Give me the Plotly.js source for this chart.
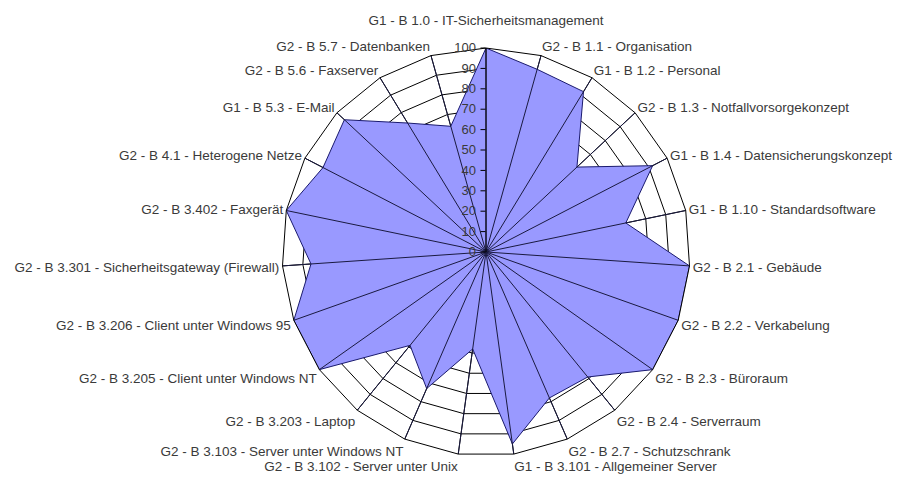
<!DOCTYPE html>
<html>
<head>
<meta charset="utf-8">
<script src="https://cdn.plot.ly/plotly-3.0.1.min.js"></script>
<style>html,body{margin:0;padding:0;background:#fff;}#chart{width:908px;height:477px;}</style>
</head>
<body>
<div id="chart"></div>
<script>
const categories = [
  "G1 - B 1.0 - IT-Sicherheitsmanagement",
  "G2 - B 1.1 - Organisation",
  "G1 - B 1.2 - Personal",
  "G2 - B 1.3 - Notfallvorsorgekonzept",
  "G1 - B 1.4 - Datensicherungskonzept",
  "G1 - B 1.10 - Standardsoftware",
  "G2 - B 2.1 - Gebäude",
  "G2 - B 2.2 - Verkabelung",
  "G2 - B 2.3 - Büroraum",
  "G2 - B 2.4 - Serverraum",
  "G2 - B 2.7 - Schutzschrank",
  "G1 - B 3.101 - Allgemeiner Server",
  "G2 - B 3.102 - Server unter Unix",
  "G2 - B 3.103 - Server unter Windows NT",
  "G2 - B 3.203 - Laptop",
  "G2 - B 3.205 - Client unter Windows NT",
  "G2 - B 3.206 - Client unter Windows 95",
  "G2 - B 3.301 - Sicherheitsgateway (Firewall)",
  "G2 - B 3.402 - Faxgerät",
  "G2 - B 4.1 - Heterogene Netze",
  "G1 - B 5.3 - E-Mail",
  "G2 - B 5.6 - Faxserver",
  "G2 - B 5.7 - Datenbanken"
];
const values = [100, 93, 92, 61, 92, 70, 100, 100, 100, 79, 78, 95, 48, 73, 59, 100, 100, 86, 100, 90, 95, 74, 64];
const radialTicks = [0, 10, 20, 30, 40, 50, 60, 70, 80, 90, 100];
const rMax = 100;

const FONT = "Liberation Sans, Arial, sans-serif";
const TXT = "#3a3a3a";

// closed polygon
const thetaClosed = categories.concat([categories[0]]);
const rClosed = values.concat([values[0]]);

// spokes drawn over the fill (category axis lines)
const spokeTheta = [], spokeR = [];
categories.forEach(c => { spokeTheta.push(c, c, c); spokeR.push(0, rMax, null); });

// the top label sits higher in the reference: add an empty line under it
const angTickText = categories.map((c, i) => i === 0 ? c + "<br> " : c);

const traces = [
  {
    type: "scatterpolar",
    theta: thetaClosed,
    r: rClosed,
    mode: "lines",
    fill: "toself",
    fillcolor: "#9999FF",
    line: {color: "#1a1a6e", width: 1},
    hoverinfo: "skip"
  },
  {
    type: "scatterpolar",
    theta: spokeTheta,
    r: spokeR,
    mode: "lines",
    connectgaps: false,
    line: {color: "#1a1a40", width: 1},
    hoverinfo: "skip"
  }
];

const layout = {
  width: 908,
  height: 477,
  margin: {l: 0, r: 0, t: 0, b: 0},
  paper_bgcolor: "#ffffff",
  showlegend: false,
  font: {family: FONT, size: 13.5, color: TXT},
  polar: {
    domain: {x: [0.3106, 0.7599], y: [0.044, 0.8994]},
    gridshape: "linear",
    bgcolor: "#ffffff",
    radialaxis: {
      range: [0, rMax],
      tickvals: radialTicks,
      ticktext: radialTicks.map(String),
      angle: 90,
      side: "counterclockwise",
      tickangle: 90,
      showline: true,
      linecolor: "#000000",
      linewidth: 1,
      ticks: "outside",
      ticklen: 5,
      tickcolor: "#000000",
      showgrid: true,
      gridcolor: "#000000",
      gridwidth: 1,
      layer: "above traces",
      tickfont: {family: FONT, size: 13, color: TXT}
    },
    angularaxis: {
      type: "category",
      categoryarray: categories,
      tickmode: "array",
      tickvals: categories,
      ticktext: angTickText,
      direction: "clockwise",
      rotation: 90,
      showline: true,
      linecolor: "#000000",
      linewidth: 1,
      showgrid: true,
      gridcolor: "#000000",
      gridwidth: 1,
      ticks: "",
      tickfont: {family: FONT, size: 13.5, color: TXT}
    }
  }
};

Plotly.newPlot("chart", traces, layout, {displayModeBar: false, staticPlot: true});
</script>
</body>
</html>
